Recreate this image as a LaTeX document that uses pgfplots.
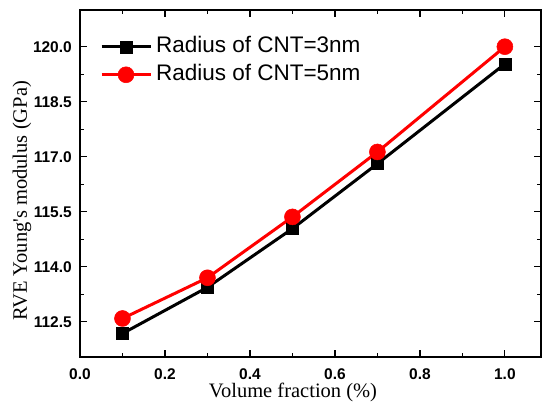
\documentclass[border=0pt]{standalone}
\usepackage{pgfplots}
\pgfplotsset{compat=1.18}
\usepackage{fontspec}
\setmainfont{Liberation Serif}
\newfontfamily\arial{Liberation Sans}

% RVE Young's modulus against CNT volume fraction
\pgfplotstableread{
vf   E
0.1  112.18
0.3  113.44
0.5  115.04
0.7  116.81
1.0  119.53
}\radiusthree
\pgfplotstableread{
vf   E
0.1  112.59
0.3  113.70
0.5  115.36
0.7  117.13
1.0  120.00
}\radiusfive

\begin{document}
\begin{tikzpicture}
\begin{axis}[
  at={(0,0)}, anchor=south west,
  scale only axis, width=461pt, height=347pt,
  xmin=0, xmax=1.085, ymin=111.54, ymax=121.0,
  xtick={0,0.2,0.4,0.6,0.8,1.0},
  ytick={112.5,114,115.5,117,118.5,120},
  minor x tick num=1, minor y tick num=1,
  tick align=inside,
  major tick length=7pt, minor tick length=4pt,
  axis line style={line width=1.2pt},
  every tick/.style={black, line width=1.2pt},
  /pgf/number format/assume math mode=true,
  xticklabel style={font=\arial\bfseries\fontsize{15.5}{15.5}\selectfont,
    /pgf/number format/.cd, fixed, fixed zerofill, precision=1,
    /tikz/.cd, anchor=north, inner sep=0pt, yshift=-11pt},
  yticklabel style={font=\arial\bfseries\fontsize{15.5}{15.5}\selectfont,
    /pgf/number format/.cd, fixed, fixed zerofill, precision=1,
    /tikz/.cd, anchor=east, inner sep=0pt, xshift=-8pt},
  xlabel={Volume fraction (\%)},
  ylabel={RVE Young\textquotesingle s modulus (GPa)},
  label style={font=\fontsize{20.5}{20.5}\selectfont},
  xlabel style={at={(axis description cs:0.462,-0.118)}, anchor=base},
  ylabel style={at={(axis description cs:-0.115,0.45)}, anchor=base, rotate=0},
  legend style={draw=none, fill=none, inner sep=0pt,
    at={(axis description cs:0.043,0.935)}, anchor=north west,
    font=\arial\fontsize{22.5}{22.5}\selectfont,
    nodes={inner sep=3pt, text height=17pt, text depth=5pt},
    row sep=0pt, column sep=1pt},
  legend cell align=left,
  legend image code/.code={
    \draw[#1, mark repeat=2, mark phase=2]
      plot coordinates {(0pt,0pt) (24.5pt,0pt) (49pt,0pt)};},
]
\addplot[black, line width=3pt, mark=square*,
  mark options={line width=0.5pt, fill=black}, mark size=6pt]
  table[x=vf, y=E] {\radiusthree};
\addlegendentry{Radius of CNT=3nm}
\addplot[red, line width=3pt, mark=*,
  mark options={line width=0.5pt, fill=red}, mark size=8pt]
  table[x=vf, y=E] {\radiusfive};
\addlegendentry{Radius of CNT=5nm}
\end{axis}
\pgfresetboundingbox
\useasboundingbox (-80pt,-48pt) rectangle (464pt,357pt);
\end{tikzpicture}
\end{document}
